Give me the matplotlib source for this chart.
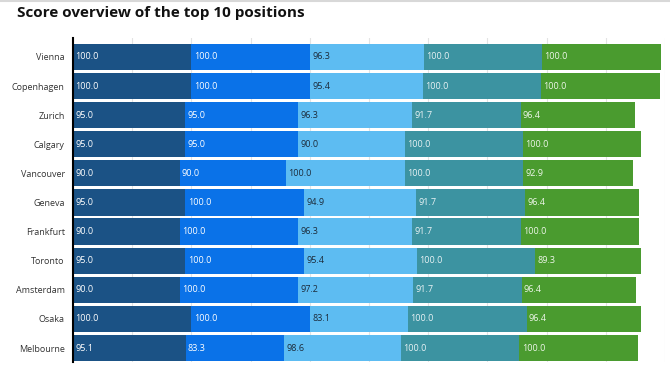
import matplotlib.pyplot as plt
import numpy as np

plt.rcParams['font.family'] = ['Open Sans', 'DejaVu Sans']

cities = ['Vienna', 'Copenhagen', 'Zurich', 'Calgary', 'Vancouver', 'Geneva',
          'Frankfurt', 'Toronto', 'Amsterdam', 'Osaka', 'Melbourne']

# five score components per city
score_1 = [100.0, 100.0, 95.0, 95.0, 90.0, 95.0, 90.0, 95.0, 90.0, 100.0, 95.1]
score_2 = [100.0, 100.0, 95.0, 95.0, 90.0, 100.0, 100.0, 100.0, 100.0, 100.0, 83.3]
score_3 = [96.3, 95.4, 96.3, 90.0, 100.0, 94.9, 96.3, 95.4, 97.2, 83.1, 98.6]
score_4 = [100.0, 100.0, 91.7, 100.0, 100.0, 91.7, 91.7, 100.0, 91.7, 100.0, 100.0]
score_5 = [100.0, 100.0, 96.4, 100.0, 92.9, 96.4, 100.0, 89.3, 96.4, 96.4, 100.0]

series = [score_1, score_2, score_3, score_4, score_5]
colors = ['#1b5285', '#0a72e8', '#5dbcf2', '#3c93a1', '#4a9b2f']
text_colors = ['white', 'white', '#1c2b3a', '#e8f2f4', '#eef6ea']

fig = plt.figure(figsize=(6.7, 3.72), dpi=100)
ax = fig.add_axes([73 / 670, 10 / 372, 592 / 670, 324 / 372])

y = np.arange(len(cities))
left = np.zeros(len(cities))
for vals, col, tcol in zip(series, colors, text_colors):
    vals = np.array(vals)
    ax.barh(y, vals, left=left, height=0.9, color=col, zorder=2)
    for yi, (l, v) in enumerate(zip(left, vals)):
        ax.text(l + 2, yi, f'{v:.1f}', color=tcol, fontsize=6.5,
                ha='left', va='center', zorder=3)
    left = left + vals

ax.set_xlim(0, 500)
ax.set_ylim(10.48, -0.65)
ax.set_yticks(y)
ax.set_yticklabels(cities, fontsize=6.5, color='#333333')
ax.set_xticks(np.arange(0, 501, 50))
ax.tick_params(axis='x', length=0, labelbottom=False)
ax.tick_params(axis='y', length=0, pad=6)
ax.grid(axis='x', color='#e3e3e3', linewidth=0.8, zorder=0)

for s in ['top', 'right', 'bottom']:
    ax.spines[s].set_visible(False)
ax.spines['left'].set_color('black')
ax.spines['left'].set_linewidth(1.5)
ax.spines['left'].set_zorder(4)

# faint shadow line along the top edge
fig.add_artist(plt.Line2D([0, 1], [1 - 1 / 372, 1 - 1 / 372], color='#d8d8d8',
                          linewidth=1.5, transform=fig.transFigure))

fig.text(17 / 670, 1 - 13 / 372, 'Score overview of the top 10 positions',
         fontsize=11, fontweight='bold', color='#111111', ha='left', va='center')

fig.savefig('out.png', dpi=100)
